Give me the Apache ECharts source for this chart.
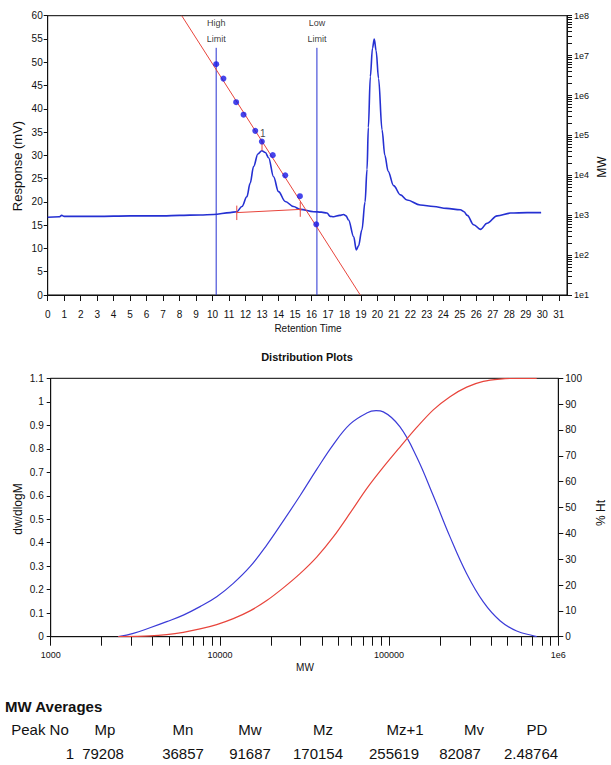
<!DOCTYPE html>
<html><head><meta charset="utf-8">
<script src="https://cdn.jsdelivr.net/npm/echarts@6/dist/echarts.min.js"></script>
<style>html,body{margin:0;padding:0;background:#fff}#c{width:611px;height:765px}</style>
</head><body><div id="c"></div>
<script>
// ---------- Top chart: chromatogram (retention time, response mV) ----------
const chromatogram = [[0,16.7],[0.7,16.8],[0.85,17.1],[1.0,16.9],[3,16.9],[5,17.0],[7,17.0],[8,17.1],[9.25,17.2],[10.06,17.3],[11.07,17.7],[11.47,17.9],[11.78,19.0],[12.08,21.1],[12.28,24.0],[12.49,27.6],[12.75,30.3],[12.99,31.0],[13.2,30.6],[13.4,29.5],[13.7,25.4],[14.0,22.2],[14.41,20.1],[14.91,19.0],[15.32,18.4],[16.13,17.9],[16.6,17.8],[16.94,17.6],[17.14,16.9],[17.34,16.8],[17.7,17.1],[17.95,17.3],[18.1,17.0],[18.25,16.1],[18.56,12.5],[18.72,9.7],[18.85,10.5],[19.06,14],[19.25,20],[19.37,27],[19.45,36],[19.57,46.9],[19.7,53],[19.81,55.0],[19.92,52.5],[20.07,46.5],[20.28,35.5],[20.45,30.0],[20.65,26.6],[20.98,23.5],[21.4,21.5],[21.8,20.4],[22.6,19.35],[23.41,19.0],[24.2,18.6],[25.03,18.3],[25.25,17.9],[25.45,17.1],[25.84,15.1],[26.25,14.1],[26.65,15.4],[27.26,17.0],[28.07,17.6],[29.08,17.7],[29.93,17.7]];
// calibration standards (retention time, MW)
const calTime = [10.22,10.66,11.43,11.88,12.59,12.99,13.65,14.41,15.3,16.29];
const calMW = [6.1e6,2.65e6,6.8e5,3.3e5,1.3e5,7.0e4,3.2e4,1.0e4,3.0e3,5.9e2];
// calibration fit line end points (time, MW)
const calLine = [[8.13,1e8],[18.96,10]];
// integration limits
const limitTimes = [10.22,16.33];
const limitNames = ['High\nLimit','Low\nLimit'];
const limitTop = 53.1;
// peak baseline and its end marks [time, low, high]
const peakBaseline = [[11.47,17.7],[15.4,18.4]];
const baselineMarks = [[11.47,16.1,19.2],[15.32,16.8,20.0]];
// peak apex [time, apex response, marker top]
const peakApex = [13.0,31.0,33.3];
const peakLabelPos = [13.05,34.6];
const peakLabel = '1';
// axes ticks
const timeTicks = Array.from({length:32},(_,i)=>i);
const mwDecadesTop = [1e1,1e2,1e3,1e4,1e5,1e6,1e7,1e8];

// ---------- Bottom chart: distribution plots ----------
const distMW = [2508,3077,3863,4849,6078,7630,9575,12001,15065,18910,23700,29750,37340,46800,58740,73740,83680,92400,116000,145600,182500,229100,287500,360400,452300,567700,711700,745400];
const dwdlogM = [0,0.014,0.038,0.064,0.092,0.128,0.170,0.227,0.298,0.390,0.493,0.600,0.712,0.818,0.905,0.952,0.962,0.957,0.893,0.765,0.600,0.425,0.268,0.148,0.068,0.024,0.004,0];
const cumMW = [2508,3863,4849,6078,7630,9575,12001,15065,18910,23700,29750,37340,46800,58740,73740,92400,116000,145600,182500,229100,287500,360400,452300,567700,745400];
const cumPct = [0,0.3,0.8,1.7,3.0,4.7,7.0,10.0,14.0,18.9,24.4,30.8,38.6,47.8,57.3,65.6,73.4,81.0,87.8,92.9,96.6,98.8,99.7,100,100];
const mwDecadesBottom = [1000,10000,100000,1000000];

// ---------- MW averages table ----------
const avgHeaders = ['Peak No','Mp','Mn','Mw','Mz','Mz+1','Mv','PD'];
const avgValues = ['1','79208','36857','91687','170154','255619','82087','2.48764'];

// ---------- build ----------
const FN = "'Liberation Sans',Arial,sans-serif";
const BLUE = '#2530d2';
const BLUE2 = '#3c3cd8';
const RED = '#e8453c';

function minorValues(lo, hi){
  const out=[];
  for(let d=lo; d<hi; d*=10){ for(let k=1;k<10;k++) out.push(Math.round(d*k)); }
  out.push(hi); return out;
}
const lbl = (extra)=>Object.assign({fontFamily:FN,fontSize:10,color:'#111'},extra||{});
const axLine = {show:true,lineStyle:{color:'#111',width:1}};

const series = [];
// limit lines
limitTimes.forEach((t,i)=>{
  series.push({type:'line',xAxisIndex:0,yAxisIndex:0,showSymbol:false,silent:true,
    lineStyle:{color:BLUE,width:1},data:[[t,0],[t,limitTop]]});
});
series.push({type:'scatter',xAxisIndex:0,yAxisIndex:0,symbolSize:1,itemStyle:{color:'rgba(0,0,0,0)'},silent:true,
  data:limitTimes.map((t,i)=>({value:[t,limitTop],label:{show:true,position:'top',distance:1,formatter:limitNames[i],
    fontFamily:FN,fontSize:9,lineHeight:15.5,color:'#000'}}))});
// chromatogram
series.push({type:'line',xAxisIndex:0,yAxisIndex:0,data:chromatogram,showSymbol:false,smooth:0.35,smoothMonotone:'x',
  lineStyle:{color:BLUE,width:1.6},z:3});
// calibration line
series.push({type:'line',xAxisIndex:0,yAxisIndex:1,data:calLine,showSymbol:false,lineStyle:{color:RED,width:1},z:4});
// calibration standards
series.push({type:'scatter',xAxisIndex:0,yAxisIndex:1,data:calTime.map((t,i)=>[t,calMW[i]]),symbolSize:6,
  itemStyle:{color:'#1616e6'},z:5});
// baseline
series.push({type:'line',xAxisIndex:0,yAxisIndex:0,data:peakBaseline,showSymbol:false,lineStyle:{color:RED,width:1},z:4});
baselineMarks.forEach(m=>{
  series.push({type:'line',xAxisIndex:0,yAxisIndex:0,data:[[m[0],m[1]],[m[0],m[2]]],showSymbol:false,lineStyle:{color:RED,width:1},z:4});
});
// apex marker
series.push({type:'line',xAxisIndex:0,yAxisIndex:0,data:[[peakApex[0],peakApex[1]],[peakApex[0],peakApex[2]]],showSymbol:false,lineStyle:{color:RED,width:1},z:4});
series.push({type:'scatter',xAxisIndex:0,yAxisIndex:0,data:[peakLabelPos],symbolSize:0,
  label:{show:true,position:'inside',formatter:peakLabel,fontFamily:FN,fontSize:10,color:'#111'},z:6});
// distribution
series.push({type:'line',xAxisIndex:1,yAxisIndex:2,data:distMW.map((m,i)=>[m,dwdlogM[i]]),showSymbol:false,smooth:0.4,
  lineStyle:{color:BLUE2,width:1.2}});
series.push({type:'line',xAxisIndex:1,yAxisIndex:3,data:cumMW.map((m,i)=>[m,cumPct[i]]),showSymbol:false,smooth:0.3,
  lineStyle:{color:RED,width:1.2}});

// texts
const graphic = [
  {type:'text',x:17,y:166,rotation:Math.PI/2,style:{text:'Response (mV)',font:'13px '+FN,fill:'#111',textAlign:'center',textVerticalAlign:'middle'}},
  {type:'text',x:602,y:167,rotation:Math.PI/2,style:{text:'MW',font:'12px '+FN,fill:'#111',textAlign:'center',textVerticalAlign:'middle'}},
  {type:'text',x:308,y:328,style:{text:'Retention Time',font:'10px '+FN,fill:'#111',textAlign:'center',textVerticalAlign:'middle'}},
  {type:'text',x:307,y:357,style:{text:'Distribution Plots',font:'bold 11px '+FN,fill:'#111',textAlign:'center',textVerticalAlign:'middle'}},
  {type:'text',x:18,y:509,rotation:Math.PI/2,style:{text:'dw/dlogM',font:'12px '+FN,fill:'#111',textAlign:'center',textVerticalAlign:'middle'}},
  {type:'text',x:601,y:513,rotation:Math.PI/2,style:{text:'% Ht',font:'12px '+FN,fill:'#111',textAlign:'center',textVerticalAlign:'middle'}},
  {type:'text',x:305,y:667,style:{text:'MW',font:'10px '+FN,fill:'#111',textAlign:'center',textVerticalAlign:'middle'}},
  {type:'text',x:5,y:706,style:{text:'MW Averages',font:'bold 15px '+FN,fill:'#111',textAlign:'left',textVerticalAlign:'middle'}}
];
const headerX = [40,105,183,250,323,405,474,537];
const valueX = [70,103,183,250,318,394,460,531];
avgHeaders.forEach((h,i)=>graphic.push({type:'text',x:headerX[i],y:729,style:{text:h,font:'15px '+FN,fill:'#111',textAlign:'center',textVerticalAlign:'middle'}}));
avgValues.forEach((v,i)=>graphic.push({type:'text',x:valueX[i],y:753,style:{text:v,font:'15px '+FN,fill:'#111',textAlign:'center',textVerticalAlign:'middle'}}));

const chart = echarts.init(document.getElementById('c'),null,{renderer:'svg'});
chart.setOption({
  animation:false,
  backgroundColor:'#fff',
  grid:[
    {left:47.7,right:44,top:15.7,bottom:470,show:true,borderColor:'#000',borderWidth:1},
    {left:50.7,right:52.7,top:378.3,bottom:128.3,show:true,borderColor:'#000',borderWidth:1}
  ],
  xAxis:[
    {gridIndex:0,type:'value',min:0,max:31.5,interval:1,axisLine:axLine,splitLine:{show:false},
      axisTick:{show:true,length:6,customValues:timeTicks,lineStyle:{color:'#111'}},
      axisLabel:lbl({margin:14,customValues:timeTicks})},
    {gridIndex:1,type:'log',logBase:10,min:1000,max:1e6,axisLine:axLine,splitLine:{show:false},minorTick:{show:false},
      axisTick:{show:true,length:9,customValues:minorValues(1000,1e6),lineStyle:{color:'#111'}},
      axisLabel:lbl({margin:14,fontSize:9,customValues:mwDecadesBottom,formatter:v=>v>=1e6?'1e6':String(Math.round(v))})}
  ],
  yAxis:[
    {gridIndex:0,type:'value',min:0,max:60,interval:5,axisLine:axLine,splitLine:{show:false},
      axisTick:{show:true,length:4,lineStyle:{color:'#111'}},axisLabel:lbl({margin:5})},
    {gridIndex:0,type:'log',logBase:10,min:10,max:1e8,position:'right',axisLine:axLine,splitLine:{show:false},
      axisTick:{show:true,length:5,customValues:minorValues(10,1e8),lineStyle:{color:'#111'}},
      axisLabel:lbl({margin:7,fontSize:9,customValues:mwDecadesTop,formatter:v=>'1e'+Math.round(Math.log10(v))})},
    {gridIndex:1,type:'value',min:0,max:1.1,interval:0.1,axisLine:axLine,splitLine:{show:false},
      axisTick:{show:true,length:4,lineStyle:{color:'#111'}},axisLabel:lbl({margin:7})},
    {gridIndex:1,type:'value',min:0,max:100,interval:10,position:'right',axisLine:axLine,splitLine:{show:false},
      axisTick:{show:true,length:5,lineStyle:{color:'#111'}},axisLabel:lbl({margin:7})}
  ],
  series:series,
  graphic:graphic
});
</script></body></html>
